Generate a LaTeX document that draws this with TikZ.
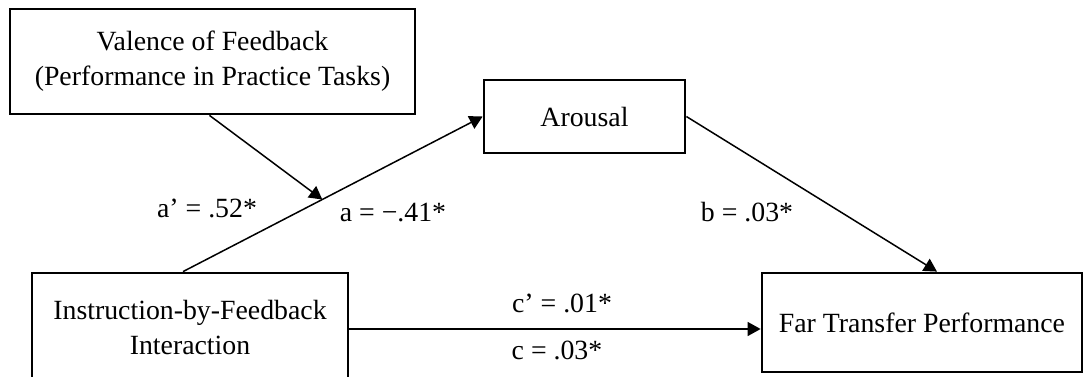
\documentclass[tikz,border=0pt]{standalone}
\usepackage{fontspec}
\setmainfont{Liberation Serif}
\usetikzlibrary{calc,arrows.meta}

\tikzset{
  var/.style={draw, line width=1.4pt, inner sep=0pt, align=center},
  link/.style={draw, line width=0.75pt, -{Triangle[length=6.5pt, width=7pt]}},
}

\begin{document}
\begin{tikzpicture}[x=0.5pt, y=-0.5pt, font=\fontsize{13.9}{17.5}\selectfont]
		\useasboundingbox (0,0) rectangle (1083,376);
		% variables
		\node[var, minimum width=202.5pt, minimum height=52.5pt] (val) at (212.5,61.5) {Valence of Feedback\\(Performance in Practice Tasks)};
		\node[var, minimum width=100.5pt, minimum height=36.5pt] (aro) at (584.5,116.5) {Arousal};
		\node[var, minimum width=158pt, minimum height=54.5pt] (ins) at (190,327.5) {Instruction-by-Feedback\\Interaction};
		\node[var, minimum width=160pt, minimum height=49.5pt] (far) at (922,322.5) {Far Transfer Performance};
		% a path and its moderator
		\draw[link] ([xshift=-3.5pt]ins.north) -- (aro.west);
		\coordinate (M) at ($([xshift=-3.5pt]ins.north)!0.465!(aro.west)$);
		\draw[link] ([xshift=-1.5pt]val.south) -- (M);
		% b path
		\draw[link] (aro.east) -- ([xshift=7.5pt]far.north);
		% c path
		\draw[link] ([yshift=-0.75pt]ins.east) -- ([yshift=-0.75pt]ins.east -| far.west);
		% coefficients
		\node (ap) at (207,208) {a’ = .52*};
		\node (a) at (393,213) {a = −.41*};
		\node (b) at (747,212) {b = .03*};
		\node (cp) at (562,303) {c’ = .01*};
		\node (c) at (557,350) {c = .03*};
	\end{tikzpicture}
\end{document}
